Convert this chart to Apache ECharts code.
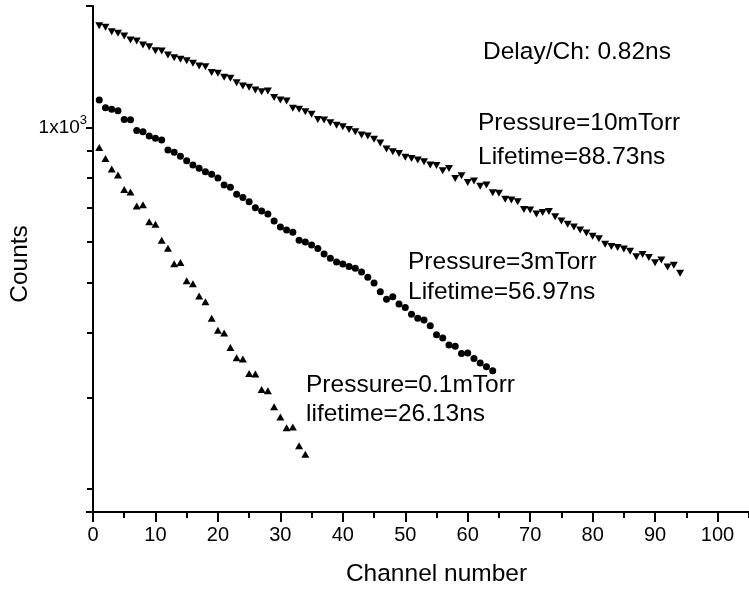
<!DOCTYPE html>
<html><head><meta charset="utf-8">
<script src="https://cdn.jsdelivr.net/npm/echarts@6/dist/echarts.min.js"></script>
<style>html,body{margin:0;padding:0;background:#fff}#c{width:749px;height:590px}</style>
</head><body><div id="c"></div>
<script>
// Channel numbers start at 1; each series value is the count at consecutive channels
const firstChannel = 1;
const counts10mTorr = [1575,1564,1534,1523,1504,1478,1471,1445,1434,1409,1407,1382,1366,1356,1347,1332,1316,1312,1279,1274,1251,1246,1221,1204,1197,1182,1173,1177,1144,1131,1126,1090,1085,1073,1061,1037,1034,1022,1011,1004,992,982,967,963,949,933,909,898,891,876,871,865,859,846,844,825,833,797,807,783,788,770,774,748,746,726,724,718,694,692,680,685,688,672,659,650,642,633,625,616,609,594,588,586,582,576,562,568,560,547,554,537,541,522];
const counts3mTorr = [1131,1093,1085,1078,1037,1036,987,982,963,954,946,905,896,880,862,846,834,821,812,799,774,766,743,732,718,699,689,680,659,642,633,627,605,600,592,583,569,558,549,544,538,534,525,513,500,481,465,470,455,448,435,427,424,413,397,391,379,377,365,366,357,350,344,338];
const counts01mTorr = [915,871,831,809,759,750,705,709,657,650,605,584,545,548,505,498,472,460,427,405,400,375,358,356,334,333,311,309,288,275,262,263,242,233];
const xTickValues = [0,10,20,30,40,50,60,70,80,90,100];
const yMajorBase = '1x10';
const yMajorExp = '3';
const annotations = [
  {text: 'Delay/Ch: 0.82ns', x: 483, y: 52},
  {text: 'Pressure=10mTorr', x: 478, y: 123},
  {text: 'Lifetime=88.73ns', x: 478, y: 157},
  {text: 'Pressure=3mTorr', x: 408, y: 262},
  {text: 'Lifetime=56.97ns', x: 408, y: 292},
  {text: 'Pressure=0.1mTorr', x: 306, y: 385},
  {text: 'lifetime=26.13ns', x: 306, y: 414}
];

const FONT = '"Liberation Sans", Arial, Helvetica, sans-serif';
const toPairs = arr => arr.map((v, i) => [firstChannel + i, v]);

const chart = echarts.init(document.getElementById('c'), null, {renderer: 'canvas'});
chart.setOption({
  animation: false,
  backgroundColor: '#fff',
  textStyle: {fontFamily: FONT},
  grid: {left: 93, right: -31, top: 6, bottom: 78, containLabel: false, outerBoundsMode: 'none'},
  xAxis: {
    type: 'value', min: 0, max: 110, interval: 10,
    axisLine: {onZero: false, lineStyle: {color: '#000', width: 2}},
    axisTick: {show: true, length: 10, lineStyle: {color: '#000', width: 2}},
    minorTick: {show: true, splitNumber: 2, length: 6, lineStyle: {color: '#000', width: 2}},
    axisLabel: {color: '#000', fontSize: 20, fontFamily: FONT, margin: 13,
      formatter: v => xTickValues.indexOf(v) >= 0 ? String(v) : ''},
    splitLine: {show: false},
    name: 'Channel number', nameLocation: 'middle', nameGap: 50, nameMoveOverlap: false,
    nameTextStyle: {color: '#000', fontSize: 24.5, fontFamily: FONT}
  },
  yAxis: {
    type: 'log', logBase: 10, min: 180, max: 1720,
    axisLine: {show: true, onZero: false, lineStyle: {color: '#000', width: 2}},
    axisTick: {show: true, length: 7, lineStyle: {color: '#000', width: 2}},
    minorTick: {show: true, splitNumber: 9, length: 6, lineStyle: {color: '#000', width: 2}},
    axisLabel: {color: '#000', fontSize: 19, fontFamily: FONT, margin: 6,
      formatter: v => Math.abs(v - 1000) < 1 ? '{b|' + yMajorBase + '}{e|' + yMajorExp + '}' : '',
      rich: {
        b: {fontSize: 19, fontFamily: FONT, color: '#000'},
        e: {fontSize: 13, fontFamily: FONT, color: '#000', padding: [0, 0, 14, 0]}
      }},
    splitLine: {show: false},
    minorSplitLine: {show: false},
    name: 'Counts', nameLocation: 'middle', nameGap: 60, nameRotate: 90, nameMoveOverlap: false,
    nameTextStyle: {color: '#000', fontSize: 24.5, fontFamily: FONT, padding: [0, 10, 0, 0]}
  },
  series: [
    {name: '10mTorr', type: 'scatter', symbol: 'triangle', symbolRotate: 180, symbolSize: [8, 7],
      itemStyle: {color: '#000', opacity: 1}, data: toPairs(counts10mTorr)},
    {name: '3mTorr', type: 'scatter', symbol: 'circle', symbolSize: 7,
      itemStyle: {color: '#000', opacity: 1}, data: toPairs(counts3mTorr)},
    {name: '0.1mTorr', type: 'scatter', symbol: 'triangle', symbolSize: [8, 7],
      itemStyle: {color: '#000', opacity: 1}, data: toPairs(counts01mTorr)}
  ],
  graphic: annotations.map(a => ({
    type: 'text', x: a.x, y: a.y, silent: true,
    style: {text: a.text, fill: '#000', fontSize: 24.5, fontFamily: FONT, align: 'left', verticalAlign: 'middle'}
  }))
});
</script>
</body></html>
